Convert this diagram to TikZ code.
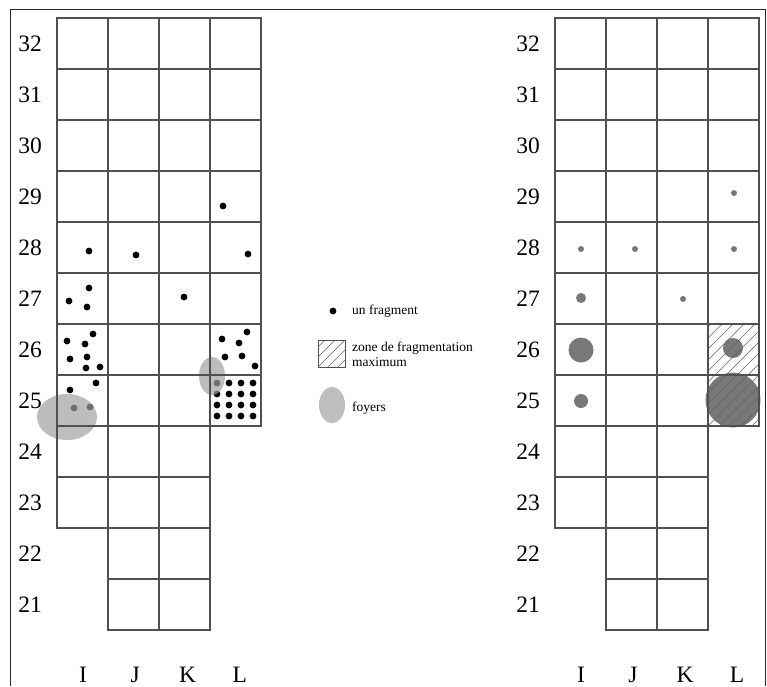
\documentclass[tikz,border=0pt]{standalone}
\usepackage{fontspec}
\setmainfont{Liberation Serif}
\definecolor{gridc}{RGB}{80,80,80}
\definecolor{foyer}{RGB}{190,190,190}
\definecolor{foyerT}{RGB}{160,160,160}
\definecolor{markc}{RGB}{120,120,120}
\definecolor{hatchc}{RGB}{100,100,100}
\begin{document}
\begin{tikzpicture}[x=1pt,y=-1pt,
  cellbox/.style={draw=gridc,line width=1.2pt},
  frag/.style={fill=black},
  mk/.style={fill=markc},
  foyertr/.style={fill=foyerT,fill opacity=0.69},
  hatchline/.style={draw=hatchc,line width=0.6pt},
  rowlab/.style={font=\fontsize{23.5}{27}\selectfont,inner sep=0pt},
  collab/.style={font=\fontsize{23.5}{27}\selectfont,inner sep=0pt,anchor=base},
  legtext/.style={font=\fontsize{13.5}{15}\selectfont,inner sep=0pt,anchor=west,align=left}
]
\useasboundingbox (0,0) rectangle (767,686);
\fill[white] (0,0) rectangle (767,686);
\draw[line width=1pt,black!85] (10,686) -- (10,9) -- (765,9) -- (765,686);

% ---- left plan: fragments ----
\foreach \p in {(223,206),(89,251),(136,255),(248,254),(89,288),(69,301),(87,307),(184,297),
  (93,334),(67,341),(85,344),(70,359),(87,357),(86,368),(100,367),(96,383),(70,390),(74,408),(90,407),
  (222,339),(247,332),(239,343),(225,357),(242,356),(255,366)}
  \fill[frag] \p circle (3.4);
\foreach \i in {217,229,241,253}
  \foreach \j in {383,394,405,416}
    \fill[frag] (\i,\j) circle (3.4);
% foyers
\fill[foyertr] (67,417) ellipse (30 and 23);
\fill[foyertr] (212,376) ellipse (13 and 19);

% ---- right plan: marks and hatching ----
\foreach \p in {(734,193),(581,249),(635,249),(734,249),(683,299)}
  \fill[mk] \p circle (3);
\fill[mk] (581,298) circle (5);
\fill[mk] (581,350) circle (12.5);
\fill[mk] (733,348) circle (10);
\fill[mk] (581,401) circle (7);
\fill[mk] (733,400) circle (27.5);
\begin{scope}
  \clip (708,324) rectangle (759,426);
  \foreach \k in {-12,...,6}
    \draw[hatchline] ({708+11*\k},426) -- ++(120,-120);
\end{scope}

% ---- grids ----
\foreach \ox in {57,555} {
  \foreach \r in {32,...,25}
    \foreach \c in {0,...,3}
      \draw[cellbox] ({\ox+51*\c},{18+51*(32-\r)}) rectangle ++(51,51);
  \foreach \r in {24,23}
    \foreach \c in {0,...,2}
      \draw[cellbox] ({\ox+51*\c},{18+51*(32-\r)}) rectangle ++(51,51);
  \foreach \r in {22,21}
    \foreach \c in {1,2}
      \draw[cellbox] ({\ox+51*\c},{18+51*(32-\r)}) rectangle ++(51,51);
}

% ---- labels ----
\foreach \r in {32,...,21} {
  \node[rowlab] (lrow\r) at (30,{43.5+51*(32-\r)}) {\r};
  \node[rowlab] (rrow\r) at (528,{43.5+51*(32-\r)}) {\r};
}
\foreach \c/\t in {0/I,1/J,2/K,3/L} {
  \node[collab] (lcol\t) at ({83+52.3*\c},682) {\t};
  \node[collab] (rcol\t) at ({581+52*\c},682) {\t};
}

% ---- legend ----
\fill[frag] (333,311) circle (3.4);
\node[legtext] (legfrag) at (352,311) {un fragment};
\begin{scope}
  \clip (318,340) rectangle (345,367);
  \foreach \k in {-4,...,3}
    \draw[hatchline] ({318+10*\k},367) -- ++(40,-40);
\end{scope}
\draw[draw=gridc,line width=0.8pt] (318,340) rectangle (345,367);
\node[legtext] (legzone) at (352,354) {zone de fragmentation\\maximum};
\fill[foyer] (332,405) ellipse (13 and 18);
\node[legtext] (legfoyer) at (352,408) {foyers};
\end{tikzpicture}
\end{document}
